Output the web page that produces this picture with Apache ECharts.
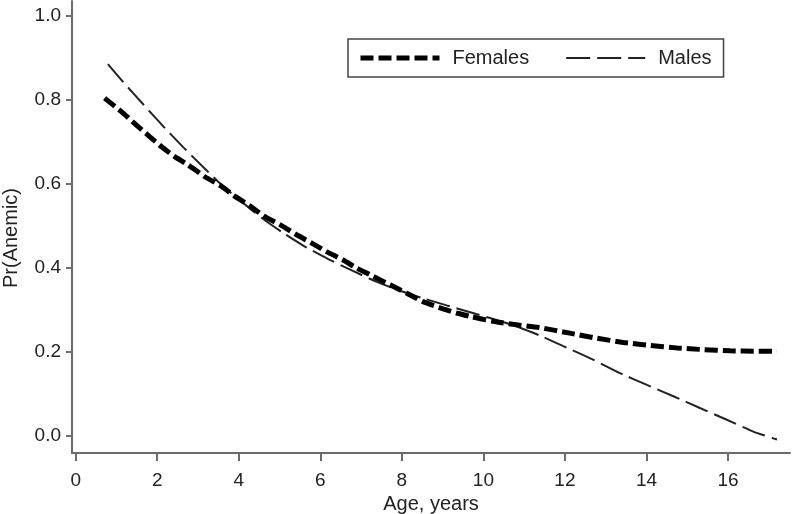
<!DOCTYPE html>
<html>
<head>
<meta charset="utf-8">
<script src="https://cdn.jsdelivr.net/npm/echarts@6/dist/echarts.min.js"></script>
<style>
html,body{margin:0;padding:0;background:#fff;}
#chart{width:794px;height:514px;}
</style>
</head>
<body>
<div id="chart"></div>
<script>
// Data
const femaleAge = [0.71,1.12,1.49,1.82,2.10,2.43,2.76,3.17,3.58,3.88,4.27,4.61,5.01,5.42,5.79,6.15,6.56,6.89,7.30,7.71,8.12,8.52,9.01,9.34,9.67,10.24,10.72,11.39,12.12,12.78,13.43,14.09,14.74,15.39,16.05,16.70,17.20];
const femalePr  = [0.804,0.772,0.740,0.712,0.689,0.665,0.645,0.617,0.594,0.572,0.548,0.524,0.503,0.479,0.459,0.439,0.419,0.400,0.380,0.360,0.340,0.320,0.303,0.293,0.285,0.273,0.266,0.258,0.245,0.233,0.223,0.216,0.210,0.206,0.203,0.202,0.202];
const maleAge = [0.79,1.16,1.65,2.10,2.63,3.17,3.62,4.10,4.59,5.08,5.57,6.16,6.80,7.39,7.95,8.52,9.10,9.74,10.41,10.90,11.39,11.96,12.69,13.35,14.01,14.66,15.31,15.97,16.62,17.20];
const malePr  = [0.885,0.843,0.790,0.742,0.688,0.636,0.594,0.555,0.517,0.484,0.454,0.423,0.393,0.367,0.346,0.328,0.311,0.293,0.274,0.258,0.239,0.214,0.182,0.150,0.122,0.095,0.067,0.039,0.011,-0.008];
const xTicks = [0,2,4,6,8,10,12,14,16];
const yTicks = [0,0.2,0.4,0.6,0.8,1.0];
const seriesNames = ['Females','Males'];
const xTitle = 'Age, years';
const yTitle = 'Pr(Anemic)';

const zip = (a,b) => a.map((v,i)=>[v,b[i]]);
const FONT = '"Liberation Sans", Arial, sans-serif';
const axisGray = '#6b6b6b';
const femaleLine = {color:'#000', width:5, type:[13,5]};
const maleLine = {color:'#222', width:2, type:[24,7]};

const chart = echarts.init(document.getElementById('chart'), null, {renderer:'canvas'});
chart.setOption({
  animation:false,
  backgroundColor:'#fff',
  grid:{left:72, right:4, top:1, bottom:61, containLabel:false, outerBoundsMode:'none'},
  xAxis:{
    type:'value', min:-0.09, max:17.52,
    name:xTitle, nameLocation:'middle', nameGap:33,
    nameTextStyle:{fontFamily:FONT, fontSize:20, color:'#222'},
    axisLine:{show:true, onZero:false, lineStyle:{color:axisGray, width:2}},
    axisTick:{show:true, length:8, customValues:xTicks, lineStyle:{color:axisGray, width:2}},
    axisLabel:{customValues:xTicks, margin:18, fontFamily:FONT, fontSize:19, color:'#222'},
    splitLine:{show:false}
  },
  yAxis:{
    type:'value', min:-0.04, max:1.035,
    axisLine:{show:true, onZero:false, lineStyle:{color:axisGray, width:2}},
    axisTick:{show:true, length:6, customValues:yTicks, lineStyle:{color:axisGray, width:2}},
    axisLabel:{customValues:yTicks, margin:11, fontFamily:FONT, fontSize:19, color:'#222',
      formatter:v=>v.toFixed(1)},
    splitLine:{show:false}
  },
  legend:{
    left:348, top:39,
    padding:[9,12,9,10],
    borderColor:'#444', borderWidth:1.5,
    itemWidth:79, itemHeight:20, itemGap:36,
    itemStyle:{opacity:0},
    textStyle:{fontFamily:FONT, fontSize:20, color:'#222', padding:[0,0,0,8]},
    data:[
      {name:seriesNames[0], itemStyle:{opacity:0}, lineStyle:femaleLine},
      {name:seriesNames[1], itemStyle:{opacity:0}, lineStyle:maleLine}
    ]
  },
  graphic:[{
    type:'text', x:11, y:238, rotation:Math.PI/2,
    style:{text:yTitle, font:'20px ' + FONT, fill:'#222', textAlign:'center', textVerticalAlign:'middle'}
  }],
  series:[
    {name:seriesNames[0], type:'line', data:zip(femaleAge,femalePr), symbol:'none', smooth:0.2,
      lineStyle:femaleLine, itemStyle:{color:'#000'}, z:3},
    {name:seriesNames[1], type:'line', data:zip(maleAge,malePr), symbol:'none', smooth:0.2,
      lineStyle:maleLine, itemStyle:{color:'#222'}, z:2}
  ]
});
</script>
</body>
</html>
